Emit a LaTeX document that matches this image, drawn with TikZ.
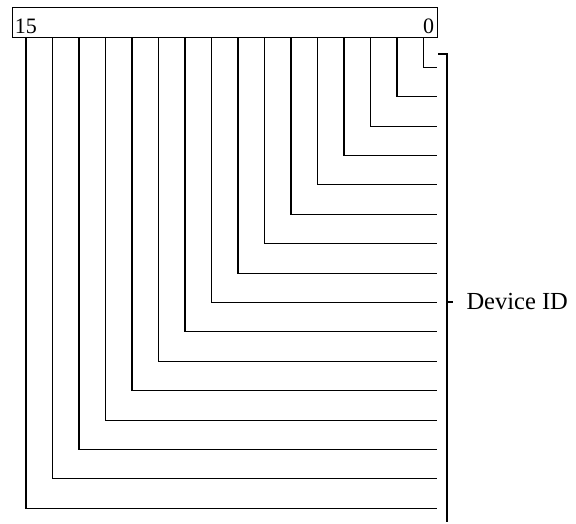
\documentclass[tikz,border=0pt]{standalone}
\usepackage{fontspec}
\setmainfont{Liberation Serif}
\begin{document}
\begin{tikzpicture}[x=1pt, y=-1pt, line width=1pt]

\tikzstyle{regbox}=[rectangle, draw, minimum width=425pt, minimum height=30pt, inner sep=0pt]
\tikzstyle{bitnum}=[inner sep=0pt, font=\fontsize{22}{24}\selectfont]
\tikzstyle{fieldname}=[inner sep=0pt, font=\fontsize{24.5}{28}\selectfont]
\tikzstyle{bitline}=[draw, line width=1.1pt]

\useasboundingbox (0,0) rectangle (576,523);

\node (reg) [regbox] at (224.5,22) {};
\node (msb) [bitnum, anchor=base west] at (14.5,33.3) {15};
\node (lsb) [bitnum, anchor=base east] at (434.5,33.3) {0};

% one line per bit, from the register down and over to the bracket
\foreach \i in {0,...,15} {
  \coordinate (top\i) at ({423.5-26.5*\i},37);
  \coordinate (end\i) at (437,{67.3+29.4*\i});
  \draw [bitline] (top\i) |- (end\i);
}

% bracket
\coordinate (brtop) at (438,54);
\coordinate (brcorner) at (447,54);
\coordinate (brbot) at (447,522);
\coordinate (brmid) at (447,302);
\node (dev) [fieldname, anchor=west] at (466,302) {Device ID};
\draw [bitline] (brtop) -- (brcorner) -- (brbot);
\draw [bitline] (brmid) -- +(6,0);

\end{tikzpicture}
\end{document}
